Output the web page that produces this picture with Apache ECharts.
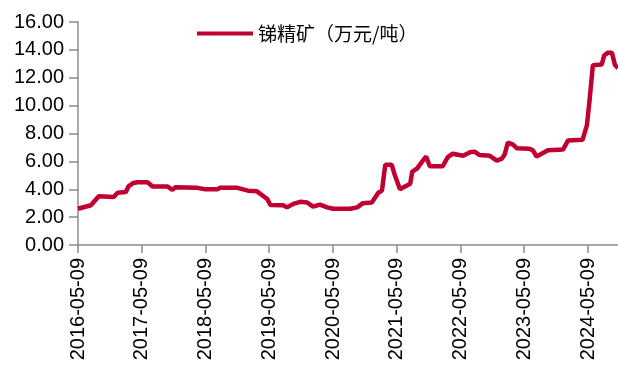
<!DOCTYPE html>
<html>
<head>
<meta charset="utf-8">
<script src="https://cdn.jsdelivr.net/npm/echarts@6/dist/echarts.min.js"></script>
<style>html,body{margin:0;padding:0;background:#fff}#c{width:618px;height:370px}</style>
</head>
<body>
<div id="c"></div>
<script>
const seriesName = '锑精矿（万元/吨）';
const dates = [
'2016-05-09','2016-07-22','2016-09-05','2016-11-30','2016-12-22','2017-02-07','2017-02-22','2017-03-23','2017-04-14','2017-06-11',
'2017-07-10','2017-10-03','2017-11-01','2017-11-18','2018-03-23','2018-05-09','2018-07-17','2018-08-01','2018-11-08','2019-01-08',
'2019-02-28','2019-04-28','2019-05-16','2019-07-28','2019-08-19','2019-09-24','2019-11-03','2019-12-13','2020-01-15','2020-02-24',
'2020-04-05','2020-05-09','2020-08-15','2020-09-24','2020-10-27','2020-12-17','2021-01-23','2021-02-13','2021-03-04','2021-04-10',
'2021-04-28','2021-05-09','2021-05-27','2021-06-25','2021-07-25','2021-08-05','2021-09-03','2021-10-02','2021-10-24','2021-11-03',
'2021-11-14','2022-01-27','2022-02-25','2022-03-26','2022-05-24','2022-07-03','2022-07-28','2022-08-26','2022-10-24','2022-12-03',
'2023-01-01','2023-01-17','2023-02-04','2023-03-06','2023-03-27','2023-06-09','2023-06-27','2023-07-19','2023-08-24','2023-09-22',
'2023-12-17','2024-01-15','2024-04-07','2024-05-02','2024-05-18','2024-06-05','2024-07-26','2024-08-09','2024-08-30','2024-09-22',
'2024-10-10','2024-10-27'
];
const values = [
2.6,2.85,3.5,3.45,3.75,3.8,4.2,4.45,4.5,4.5,
4.2,4.2,3.95,4.15,4.1,4.0,4.0,4.1,4.1,3.9,
3.85,3.3,2.87,2.85,2.7,2.95,3.1,3.05,2.75,2.9,
2.7,2.6,2.6,2.7,3.0,3.05,3.75,3.9,5.75,5.75,
5.0,5.0,4.0,4.2,4.4,5.25,5.5,6.0,6.35,6.3,
5.65,5.65,6.3,6.55,6.4,6.65,6.7,6.45,6.4,6.05,
6.2,6.5,7.35,7.2,6.95,6.9,6.8,6.35,6.6,6.8,
6.85,7.5,7.55,8.6,10.5,12.9,12.95,13.6,13.8,13.8,
12.9,12.7
];
const tickDates = ['2016-05-09','2017-05-09','2018-05-09','2019-05-09','2020-05-09','2021-05-09','2022-05-09','2023-05-09','2024-05-09'];
const yTicks = [0,2,4,6,8,10,12,14,16];

const ts = s => { const p = s.split('-').map(Number); return Date.UTC(p[0], p[1]-1, p[2]); };
const pad = n => (n < 10 ? '0' : '') + n;
const fmt = t => { const d = new Date(t); return d.getUTCFullYear() + '-' + pad(d.getUTCMonth()+1) + '-' + pad(d.getUTCDate()); };
const tickTs = tickDates.map(ts);
const data = dates.map((d, i) => [ts(d), values[i]]);

const chart = echarts.init(document.getElementById('c'), null, {renderer: 'canvas'});
const axisColor = '#8c8c8c';
chart.setOption({
  animation: false,
  backgroundColor: '#ffffff',
  grid: {left: 78, right: 0, top: 22, bottom: 125, containLabel: false, outerBoundsMode: 'none'},
  legend: {
    left: 192, top: 19,
    icon: 'rect', itemWidth: 56, itemHeight: 4, itemGap: 10,
    textStyle: {fontFamily: 'Noto Sans CJK SC', fontSize: 19, color: '#000'},
    data: [seriesName]
  },
  xAxis: {
    type: 'value',
    min: ts(dates[0]), max: ts(dates[dates.length-1]),
    splitLine: {show: false},
    axisLine: {lineStyle: {color: axisColor, width: 1.5}},
    axisTick: {show: true, length: 8, lineStyle: {color: axisColor, width: 1.5}, customValues: tickTs},
    axisLabel: {
      rotate: 90, margin: 13, fontFamily: 'Liberation Sans', fontSize: 20, color: '#000',
      customValues: tickTs, formatter: v => fmt(v), showMinLabel: true, showMaxLabel: true
    }
  },
  yAxis: {
    type: 'value', min: 0, max: 16, interval: 2,
    splitLine: {show: false},
    axisLine: {show: true, lineStyle: {color: axisColor, width: 1.5}},
    axisTick: {show: true, length: 9, lineStyle: {color: axisColor, width: 1.5}, customValues: yTicks},
    axisLabel: {margin: 14, fontFamily: 'Liberation Sans', fontSize: 20, color: '#000', formatter: v => v.toFixed(2), customValues: yTicks}
  },
  series: [{
    name: seriesName, type: 'line', data: data,
    symbol: 'none', smooth: false, clip: true,
    lineStyle: {color: '#C00030', width: 4.5},
    itemStyle: {color: '#C00030'}
  }]
});
</script>
</body>
</html>
